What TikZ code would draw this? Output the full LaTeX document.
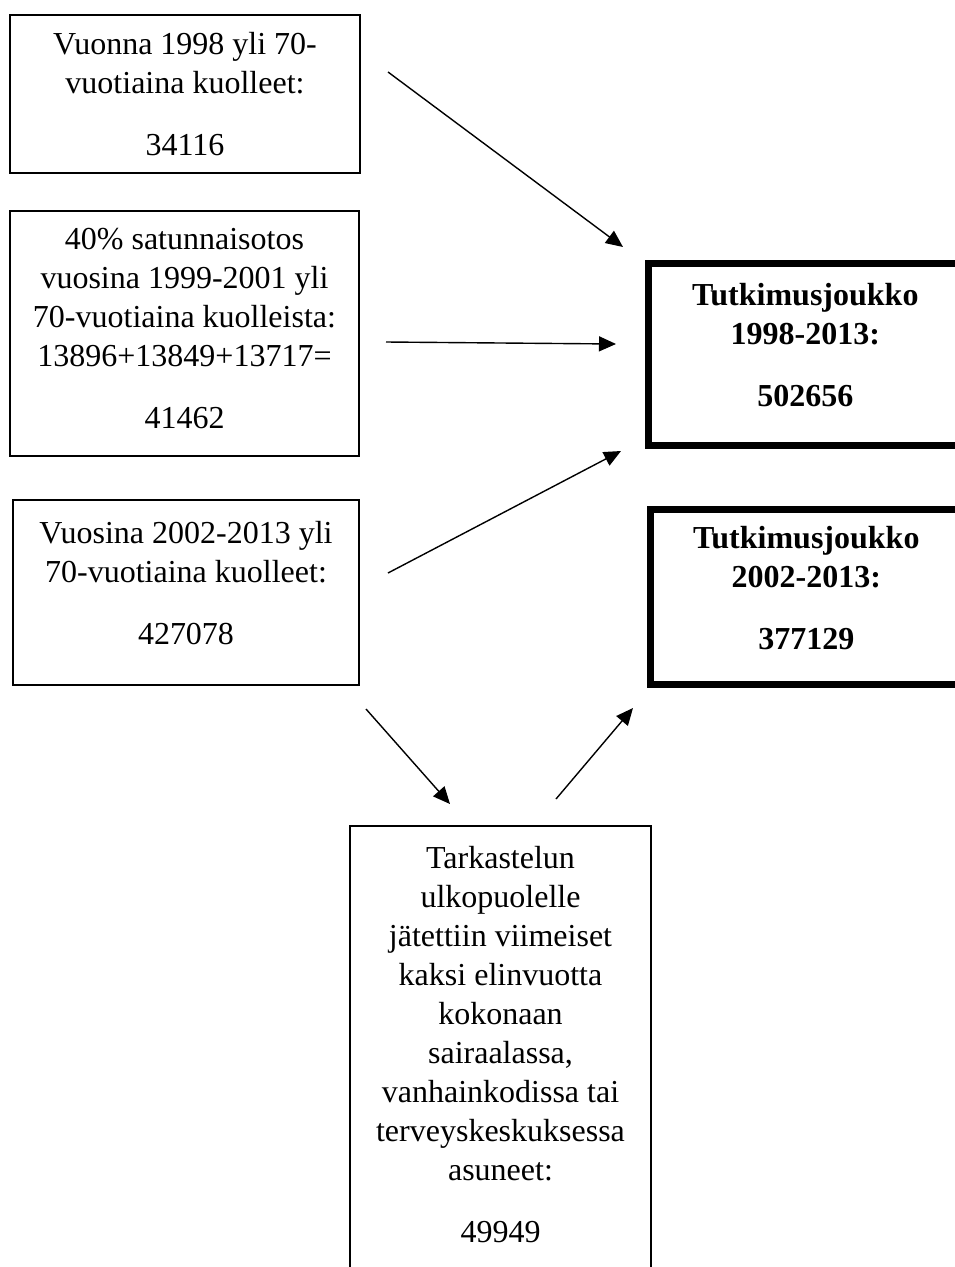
\documentclass[tikz,border=0pt]{standalone}
\usepackage{fontspec}
\setmainfont{Liberation Serif}
\usetikzlibrary{arrows.meta}
\tikzset{
  infobox/.style={draw, line width=2pt, anchor=north, align=flush center, inner xsep=0pt,
    text height=22pt, font=\fontsize{32}{39}\selectfont},
  keybox/.style={infobox, line width=7pt, font=\fontsize{32}{39}\selectfont\bfseries},
  arr/.style={line width=1.4pt, -{Triangle[length=17pt,width=15pt]}}
}
\begin{document}
\begin{tikzpicture}[x=1pt,y=-1pt]
            \fill[white] (0,0) rectangle (954,1267);
            \useasboundingbox (0,0) rectangle (954,1267);
            \node[infobox, text width=350pt, inner ysep=17pt, text depth=102pt] (v1998) at (185,14)
              {Vuonna 1998 yli 70-\\vuotiaina kuolleet:\\[23pt]34116};
            \node[infobox, text width=349pt, inner ysep=16pt, text depth=191pt] (v1999) at (184.5,210)
              {40\% satunnaisotos\\vuosina 1999-2001 yli\\70-vuotiaina kuolleista:\\13896+13849+13717=\\[23pt]41462};
            \node[infobox, text width=346pt, inner ysep=21pt, text depth=121pt] (v2002) at (186,499)
              {Vuosina 2002-2013 yli\\70-vuotiaina kuolleet:\\[23pt]427078};
            \node[keybox, text width=313.5pt, inner ysep=20.5pt, text depth=119pt] (tj1998) at (805.25,259.5)
              {Tutkimusjoukko\\1998-2013:\\[23pt]502656};
            \node[keybox, text width=311.5pt, inner ysep=17.5pt, text depth=118pt] (tj2002) at (806.25,505.5)
              {Tutkimusjoukko\\2002-2013:\\[23pt]377129};
            \node[infobox, text width=301pt, inner ysep=20pt, text depth=413pt] (pois) at (500.5,825)
              {Tarkastelun\\ulkopuolelle\\jätettiin viimeiset\\kaksi elinvuotta\\kokonaan\\sairaalassa,\\vanhainkodissa tai\\terveyskeskuksessa\\asuneet:\\[23pt]49949};
            % arrow ends
            \coordinate (a1s) at (388,72);   \coordinate (a1e) at (623,247);
            \coordinate (a2s) at (386,342);  \coordinate (a2e) at (616,344);
            \coordinate (a3s) at (388,573);  \coordinate (a3e) at (621,451);
            \coordinate (a4s) at (366,709);  \coordinate (a4e) at (450,804);
            \coordinate (a5s) at (556,799);  \coordinate (a5e) at (633,708);
            \draw[arr] (a1s) -- (a1e);
            \draw[arr] (a2s) -- (a2e);
            \draw[arr] (a3s) -- (a3e);
            \draw[arr] (a4s) -- (a4e);
            \draw[arr] (a5s) -- (a5e);
        \end{tikzpicture}
\end{document}
